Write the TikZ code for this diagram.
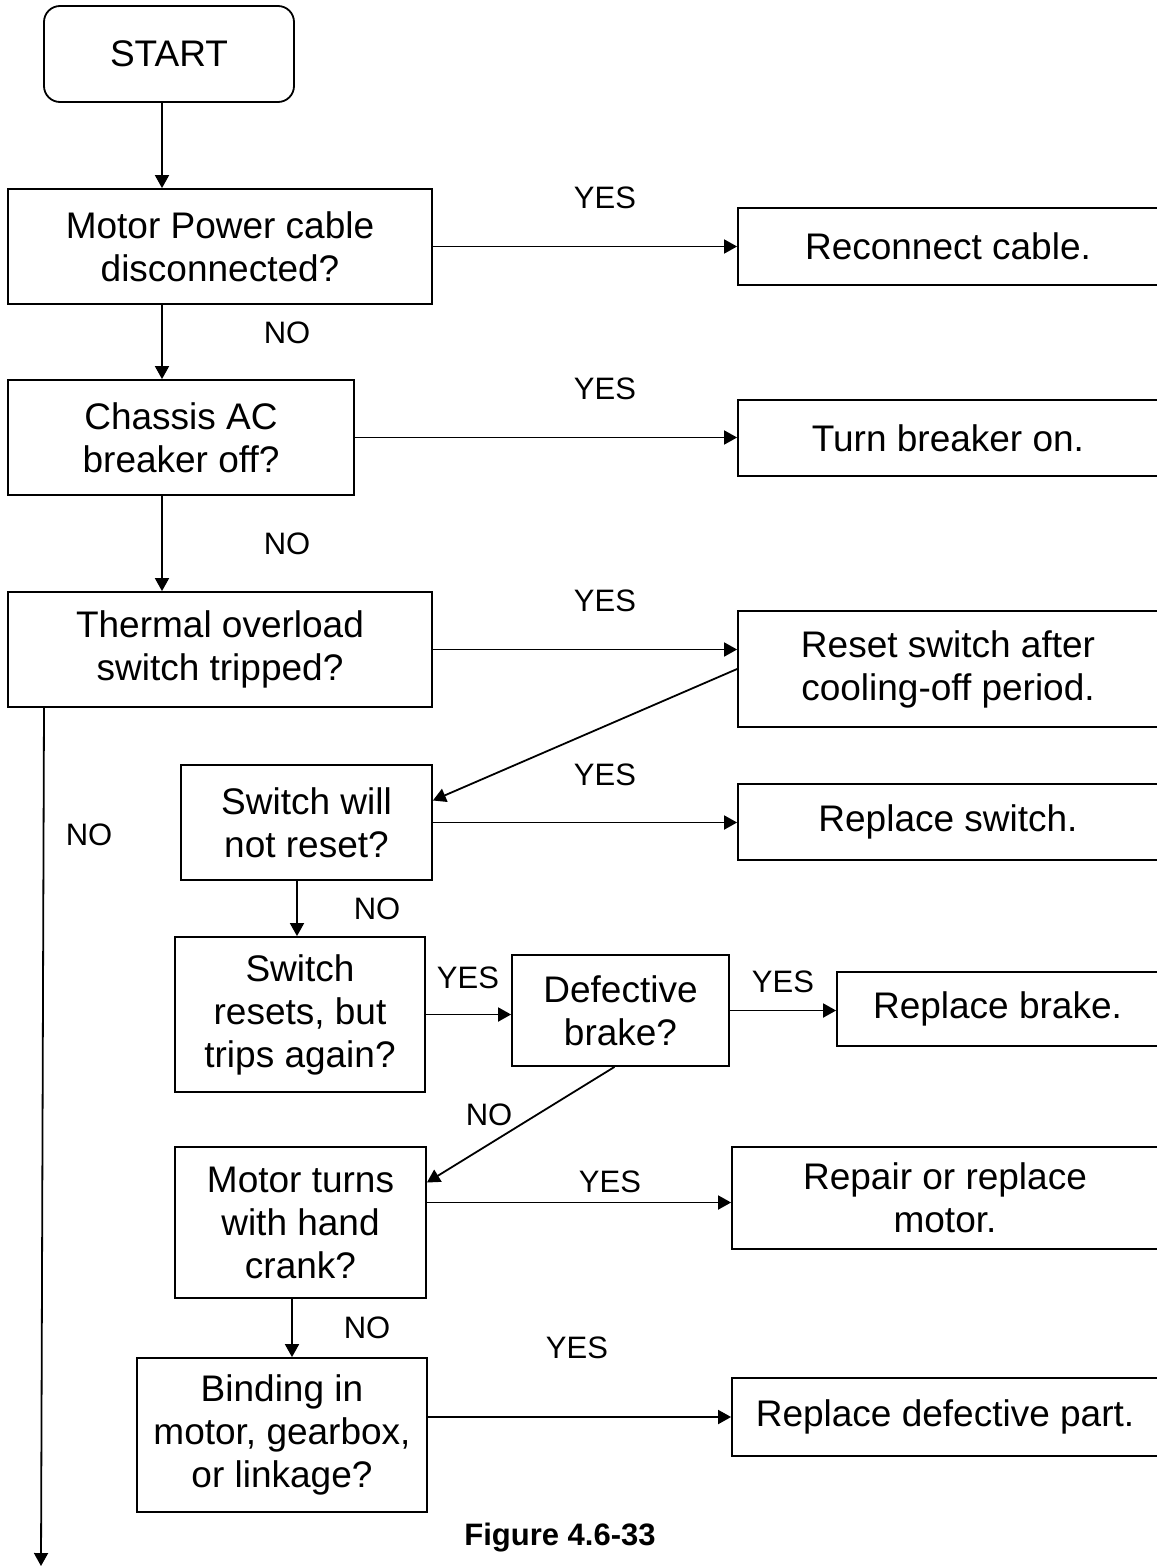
\documentclass[tikz,border=0pt]{standalone}
\usepackage{fontspec}
\setmainfont{Liberation Sans}
\usetikzlibrary{arrows.meta}

\begin{document}
\begin{tikzpicture}[x=0.5pt,y=-0.5pt,
  box/.style={draw,line width=0.9pt,inner sep=0pt,align=center,font=\fontsize{18.5}{21.5}\selectfont},
  ans/.style={font=\fontsize{15.5}{18}\selectfont},
  arr/.style={line width=0.9pt,-{Triangle[length=6.5pt,width=7pt]}}]
\useasboundingbox (0,0) rectangle (1156,1568);
\node[box,rounded corners=8pt,minimum width=125pt,minimum height=48pt] (start) at (169,54) {START};
\node[box,minimum width=212pt,minimum height=57.5pt] (cable) at (220,246.5) {Motor Power cable\\disconnected?};
\node[box,minimum width=210pt,minimum height=38.5pt] (reconn) at (948,246.5) {Reconnect cable.};
\node[box,minimum width=173pt,minimum height=57.5pt] (breaker) at (181,437.5) {Chassis AC\\breaker off?};
\node[box,minimum width=210pt,minimum height=38pt] (turnon) at (948,438) {Turn breaker on.};
\node[box,minimum width=212pt,minimum height=57.5pt] (thermal) at (220,649.5) {Thermal overload\\switch tripped?};
\node[box,minimum width=210pt,minimum height=58pt] (resetsw) at (948,669) {Reset switch after\\cooling-off period.};
\node[box,minimum width=125.5pt,minimum height=57.5pt] (noreset) at (306.5,822.5) {Switch will\\not reset?};
\node[box,minimum width=210pt,minimum height=38pt] (replsw) at (948,822) {Replace switch.};
\node[box,minimum width=125pt,minimum height=77.5pt] (trips) at (300,1014.5) {Switch\\resets, but\\trips again?};
\node[box,minimum width=108.5pt,minimum height=55.5pt] (brake) at (620.5,1010.5) {Defective\\brake?};
\node[box,minimum width=160.5pt,minimum height=37pt] (replbrake) at (997.5,1009) {Replace brake.};
\node[box,minimum width=125.5pt,minimum height=75.5pt] (crank) at (300.5,1222.5) {Motor turns\\with hand\\crank?};
\node[box,minimum width=213pt,minimum height=51pt] (replmotor) at (945,1198) {Repair or replace\\motor.};
\node[box,minimum width=145pt,minimum height=77pt] (binding) at (282,1435) {Binding in\\motor, gearbox,\\or linkage?};
\node[box,minimum width=213pt,minimum height=39pt] (replpart) at (945,1417) {Replace defective part.};
\coordinate (c1) at (162,0);
\coordinate (c2) at (44,0);
\coordinate (c3) at (297,0);
\coordinate (c4) at (292,0);
\coordinate (exit) at (41,1566);
\draw[arr] (start.south -| c1) -- (cable.north -| c1);
\draw[arr] (cable.east) -- (reconn.west);
\draw[arr] (cable.south -| c1) -- (breaker.north -| c1);
\draw[arr] (breaker.east) -- (breaker.east -| turnon.west);
\draw[arr] (breaker.south -| c1) -- (thermal.north -| c1);
\draw[arr] (thermal.east) -- (thermal.east -| resetsw.west);
\draw[arr] (resetsw.west) -- ([yshift=11pt]noreset.east);
\draw[arr] (noreset.east) -- (noreset.east -| replsw.west);
\draw[arr] (thermal.south -| c2) -- (exit);
\draw[arr] (noreset.south -| c3) -- (trips.north -| c3);
\draw[arr] (trips.east) -- (trips.east -| brake.west);
\draw[arr] (brake.east) -- (brake.east -| replbrake.west);
\draw[arr] ([xshift=-3pt]brake.south) -- ([yshift=20pt]crank.east);
\draw[arr] ([yshift=10pt]crank.east) -- ([yshift=10pt]crank.east -| replmotor.west);
\draw[arr] (crank.south -| c4) -- (binding.north -| c4);
\draw[arr] (binding.east |- replpart.west) -- (replpart.west);
\node[ans] (yes1) at (605,198) {YES};
\node[ans] (no1) at (287,333) {NO};
\node[ans] (yes2) at (605,389) {YES};
\node[ans] (no2) at (287,544) {NO};
\node[ans] (yes3) at (605,601) {YES};
\node[ans] (yes4) at (605,775) {YES};
\node[ans] (no3) at (89,835) {NO};
\node[ans] (no4) at (377,909) {NO};
\node[ans] (yes5) at (468,978) {YES};
\node[ans] (yes6) at (783,982) {YES};
\node[ans] (no5) at (489,1115) {NO};
\node[ans] (yes7) at (610,1182) {YES};
\node[ans] (no6) at (367,1328) {NO};
\node[ans] (yes8) at (577,1348) {YES};
\node[font=\bfseries\fontsize{15.5}{18}\selectfont] (figcap) at (560,1538) {Figure 4.6-33};
\end{tikzpicture}
\end{document}
